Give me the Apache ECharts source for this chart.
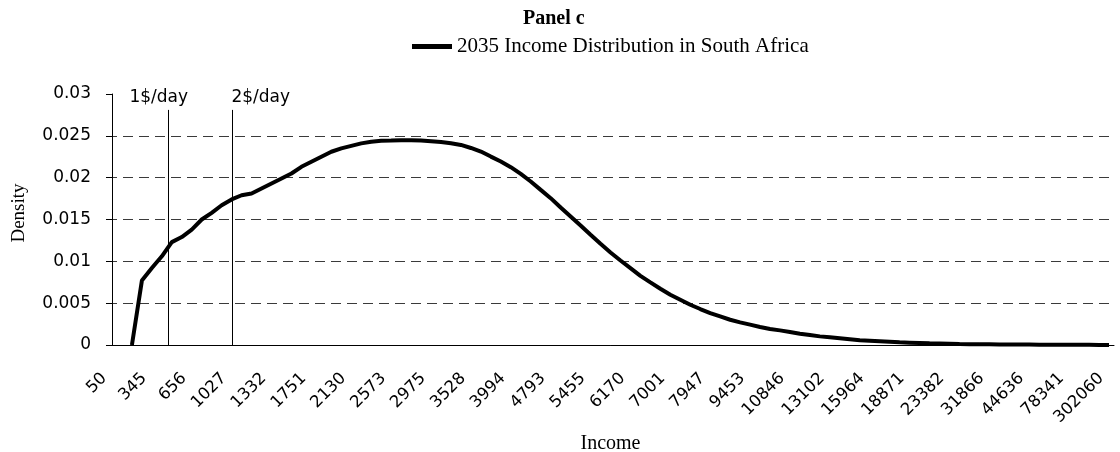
<!DOCTYPE html>
<html>
<head>
<meta charset="utf-8">
<script src="https://cdn.jsdelivr.net/npm/echarts@6/dist/echarts.min.js"></script>
<style>html,body{margin:0;padding:0;background:#fff;}#c{width:1120px;height:452px;}</style>
</head>
<body>
<div id="c"></div>
<script>
// Tick labels shown every 4th category (101 income categories)
const tickLabels = ['50','345','656','1027','1332','1751','2130','2573','2975','3528','3994','4793','5455','6170','7001','7947','9453','10846','13102','15964','18871','23382','31866','44636','78341','302060'];
const categoryCount = 101;
const labelStep = 4;
// Density values per category (null where no data)
const density = [
  null, null, 0, 0.0077, 0.0092, 0.0106, 0.0123, 0.0129, 0.0138, 0.0150,
  0.0158, 0.0167, 0.0174, 0.0179, 0.0181, 0.0187, 0.0193, 0.0199, 0.0205, 0.0213,
  0.0219, 0.0225, 0.0231, 0.0235, 0.0238, 0.0241, 0.0243, 0.0244, 0.02443, 0.02447,
  0.02447, 0.02443, 0.02435, 0.02427, 0.02411, 0.02391, 0.02355, 0.02312, 0.02252, 0.02193,
  0.02125, 0.02045, 0.01954, 0.01854, 0.01755, 0.01643, 0.01536, 0.01428, 0.01317, 0.01209,
  0.01106, 0.0101, 0.00919, 0.00827, 0.00748, 0.00672, 0.00601, 0.00541, 0.00481, 0.0043,
  0.00382, 0.00342, 0.00302, 0.00271, 0.00243, 0.00215, 0.00191, 0.00175, 0.00155, 0.00135,
  0.00119, 0.00103, 0.00092, 0.0008, 0.00068, 0.00056, 0.0005, 0.00044, 0.00038, 0.00032,
  0.00028, 0.00024, 0.0002, 0.00018, 0.00016, 0.00012, 0.0001, 0.00009, 0.00008, 0.00007,
  0.00006, 0.00005, 0.00005, 0.00004, 0.00004, 0.00003, 0.00003, 0.00002, 0.00002, 0.00001,
  0.00001
];
// Poverty lines: position in category-index units, top of line, label and label anchor
const povertyNames = ['1$/day', '2$/day'];
const povertyPos = [5.62, 12.04];
const povertyTop = 0.0281;
const povertyLabelPos = [[4.69, 0.0296], [14.92, 0.0296]];
const seriesName = '2035 Income Distribution in South Africa';

const categories = [];
for (let i = 0; i < categoryCount; i++) {
  categories.push(i % labelStep === 0 ? tickLabels[i / labelStep] : '');
}

const chart = echarts.init(document.getElementById('c'), null, {renderer: 'canvas'});
chart.setOption({
  animation: false,
  backgroundColor: '#ffffff',
  title: {
    text: 'Panel c', left: 518, top: 4,
    textStyle: {fontFamily: 'Liberation Serif', fontWeight: 'bold', fontSize: 20, color: '#000'}
  },
  legend: {
    data: [seriesName], left: 407, top: 31, itemWidth: 40, itemHeight: 5, itemGap: 6,
    icon: 'rect',
    textStyle: {fontFamily: 'Liberation Serif', fontSize: 21, color: '#000'}
  },
  grid: {left: 107, right: 6, top: 94, bottom: 107, containLabel: false, outerBoundsMode: 'none'},
  xAxis: [{
    type: 'category', data: categories, boundaryGap: true,
    name: 'Income', nameLocation: 'middle', nameGap: 86,
    nameTextStyle: {fontFamily: 'Liberation Serif', fontSize: 20, color: '#000'},
    axisLine: {lineStyle: {color: '#000', width: 1}},
    axisTick: {interval: 0, length: 5, lineStyle: {color: '#000'}},
    axisLabel: {interval: labelStep - 1, rotate: 45, margin: 23, padding: [0, 11, 0, 0],
      fontFamily: 'DejaVu Sans', fontSize: 16.5, color: '#000'},
    splitLine: {show: false}
  }, {
    type: 'value', min: -0.5, max: categoryCount - 0.5, show: false
  }],
  yAxis: {
    type: 'value', min: 0, max: 0.03, interval: 0.005,
    name: 'Density', nameLocation: 'middle', nameGap: 78, nameRotate: 90,
    nameTextStyle: {fontFamily: 'Liberation Serif', fontSize: 19, color: '#000', padding: [0, 0, 0, 13]},
    axisLine: {show: true, lineStyle: {color: '#000', width: 1}},
    axisTick: {show: true, length: 6, lineStyle: {color: '#000'}},
    axisLabel: {margin: 16, fontFamily: 'DejaVu Sans', fontSize: 17, color: '#000'},
    splitLine: {show: true, showMaxLine: false, lineStyle: {type: [10, 6], color: '#3a3a3a', width: 1}}
  },
  series: [{
    name: seriesName, type: 'line', data: density, xAxisIndex: 0,
    showSymbol: false, connectNulls: false,
    lineStyle: {color: '#000', width: 4}, itemStyle: {color: '#000'}
  }, {
    name: 'poverty', type: 'scatter', xAxisIndex: 1, symbolSize: 0,
    itemStyle: {opacity: 1, color: '#000'},
    data: povertyLabelPos.map((p, i) => ({value: p, name: povertyNames[i]})),
    label: {show: true, position: 'inside', formatter: '{b}', fontFamily: 'DejaVu Sans', fontSize: 17, color: '#000', opacity: 1},
    markLine: {
      silent: true, symbol: 'none',
      lineStyle: {color: '#000', width: 1, type: 'solid', opacity: 1},
      label: {show: false},
      data: povertyPos.map(p => [{coord: [p, 0]}, {coord: [p, povertyTop]}])
    }
  }]
});
</script>
</body>
</html>
